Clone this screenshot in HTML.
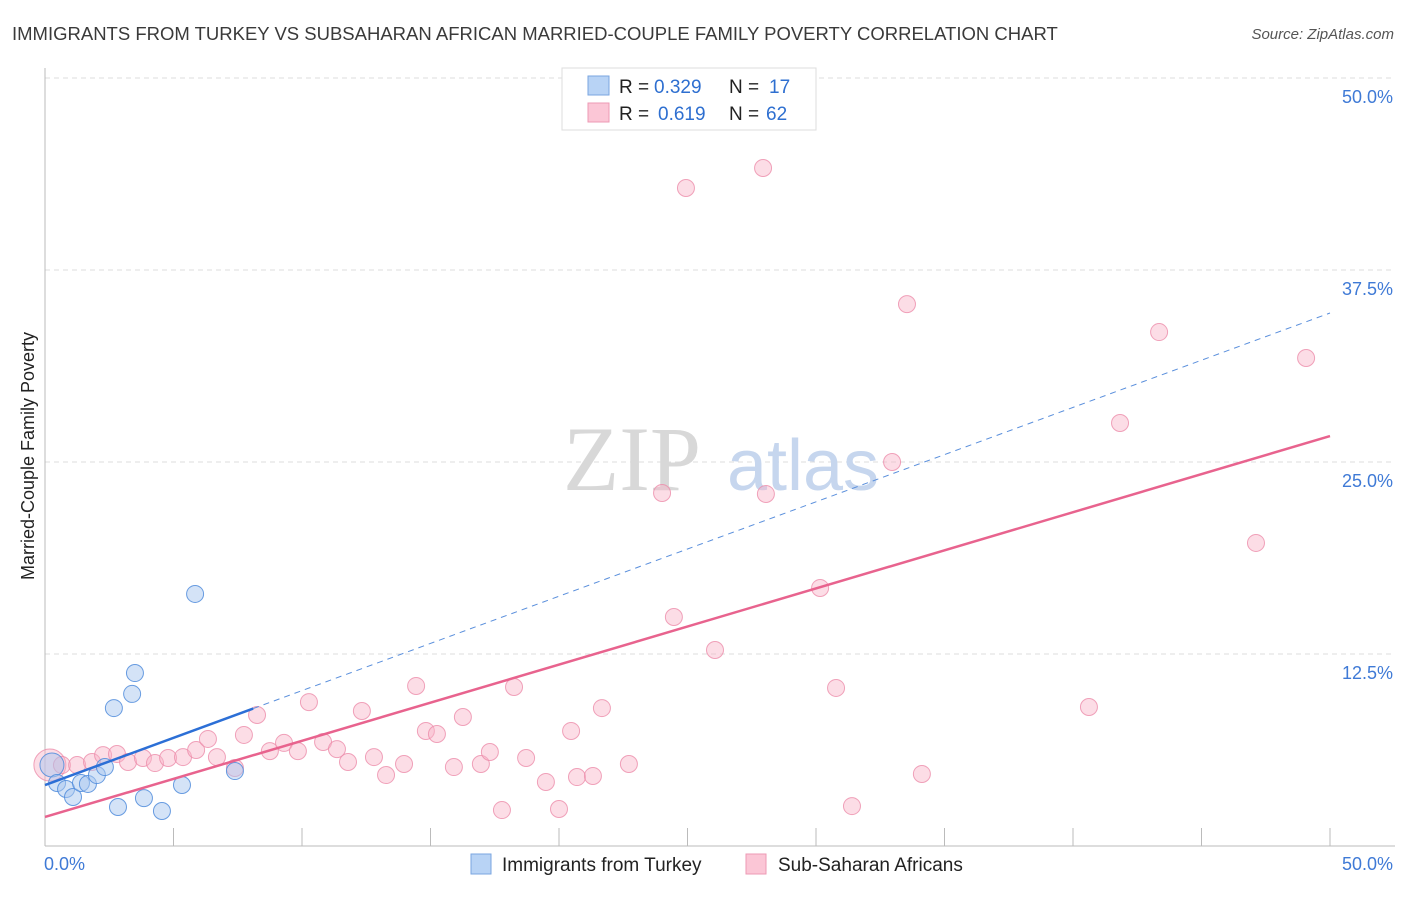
<!DOCTYPE html>
<html><head><meta charset="utf-8"><style>
body{margin:0;background:#fff;font-family:"Liberation Sans",sans-serif;}
</style></head><body>
<svg width="1406" height="892" xmlns="http://www.w3.org/2000/svg">
<text x="12" y="40" font-size="18.5" fill="#3a3a3a">IMMIGRANTS FROM TURKEY VS SUBSAHARAN AFRICAN MARRIED-COUPLE FAMILY POVERTY CORRELATION CHART</text>
<text x="1394" y="39" font-size="15" fill="#555" font-style="italic" text-anchor="end">Source: ZipAtlas.com</text>
<g id="grid"></g>
<text x="632" y="490" font-size="92" fill="#d8d8d8" font-family="Liberation Serif,serif" text-anchor="middle">ZIP</text>
<text x="803" y="490" font-size="72" fill="#c6d6ee" text-anchor="middle">atlas</text>
<g id="marks"></g>
<text transform="translate(34,456) rotate(-90)" font-size="18" fill="#222" text-anchor="middle">Married-Couple Family Poverty</text>
<g>
<rect x="562" y="68" width="254" height="62" fill="#fff" stroke="#ddd"/>
<rect x="588" y="76" width="21" height="19" fill="#b8d3f5" stroke="#7aa6e0"/>
<rect x="588" y="103" width="21" height="19" fill="#fbc6d6" stroke="#ee9ab4"/>
<text x="619" y="93" font-size="19" fill="#222">R =</text>
<text x="654" y="93" font-size="19" fill="#2e6fd0">0.329</text>
<text x="729" y="93" font-size="19" fill="#222">N =</text>
<text x="769" y="93" font-size="19" fill="#2e6fd0">17</text>
<text x="619" y="120" font-size="19" fill="#222">R =</text>
<text x="658" y="120" font-size="19" fill="#2e6fd0">0.619</text>
<text x="729" y="120" font-size="19" fill="#222">N =</text>
<text x="766" y="120" font-size="19" fill="#2e6fd0">62</text>
</g>
<g>
<rect x="471" y="854" width="20" height="20" fill="#b8d3f5" stroke="#7aa6e0"/>
<text x="502" y="871" font-size="19" fill="#222">Immigrants from Turkey</text>
<rect x="746" y="854" width="20" height="20" fill="#fbc6d6" stroke="#ee9ab4"/>
<text x="778" y="871" font-size="19" fill="#222">Sub-Saharan Africans</text>
</g>
</svg>
<script>
const yTicks=[12.5,25,37.5,50];
const yTickLabels=["12.5%","25.0%","37.5%","50.0%"];
const xTickLabels=["0.0%","50.0%"];
const blueX=[0.27,0.47,0.82,1.09,1.40,1.67,2.02,2.33,2.68,2.84,3.39,3.50,3.85,4.55,5.33,5.84,7.39];
const blueY=[5.27,4.10,3.71,3.19,4.10,4.04,4.62,5.14,8.98,2.54,9.90,11.26,3.12,2.28,3.97,16.41,4.88];
const pinkX=[0.19,0.66,1.25,1.83,2.26,2.80,3.23,3.81,4.28,4.79,5.37,5.88,6.34,6.69,7.39,7.74,8.25,8.75,9.30,9.84,10.27,10.82,11.36,11.79,12.33,12.80,13.27,13.97,14.44,14.82,15.25,15.91,16.26,16.96,17.31,17.78,18.25,18.72,19.49,20.00,20.47,20.70,21.32,21.67,22.72,24.01,24.47,24.94,26.07,27.94,28.05,30.16,30.78,31.40,32.96,33.54,34.12,40.62,41.83,43.35,47.12,49.07];
const pinkY=[5.27,5.27,5.27,5.47,5.92,5.99,5.47,5.73,5.40,5.73,5.79,6.25,6.97,5.79,5.08,7.23,8.53,6.18,6.71,6.18,9.37,6.77,6.31,5.47,8.79,5.79,4.62,5.34,10.42,7.49,7.29,5.14,8.40,5.34,6.12,2.34,10.35,5.73,4.17,2.41,7.49,4.49,4.56,8.98,5.34,22.98,14.91,42.84,12.76,44.14,22.92,16.80,10.29,2.60,25.00,35.28,4.69,9.05,27.54,33.46,19.73,31.77];
const blueLine=[3.97,34.7], blueSolidEnd=8.1;
const pinkLine=[1.89,26.69];
const NS="http://www.w3.org/2000/svg";
const X=v=>45+v/50*1285, Y=v=>846-v/12.5*192;
function mk(t,a,p){const e=document.createElementNS(NS,t);for(const k in a)e.setAttribute(k,a[k]);p.appendChild(e);return e;}
const g=document.getElementById('grid'), m=document.getElementById('marks');
yTicks.forEach((t,i)=>{
 const l=mk('line',{x1:45,x2:1395,y1:Y(t),y2:Y(t),stroke:'#ddd','stroke-dasharray':'5,4'},g);
 
 
 const tx=mk('text',{x:1393,y:Y(t)+25,'font-size':18,fill:'#3f7ad6','text-anchor':'end'},g);
 tx.textContent=yTickLabels[i];
 
 
});
mk('line',{x1:45,x2:45,y1:68,y2:846,stroke:'#bbb'},g);
mk('line',{x1:45,x2:1395,y1:846,y2:846,stroke:'#bbb'},g);
for(let i=1;i<=10;i++){const x=X(i*5);mk('line',{x1:x,x2:x,y1:828,y2:846,stroke:'#bbb'},g);}
xTickLabels.forEach((t,i)=>{
 const tx=mk('text',{x:i?1393:44,y:870,'font-size':18,fill:'#3f7ad6','text-anchor':i?'end':'start'},g);
 tx.textContent=t;
 
 
});
pinkX.forEach((v,i)=>{
 const c=mk('circle',{cx:X(v),cy:Y(pinkY[i]),r:i==0?16:8.5,fill:'rgba(248,180,200,0.45)',stroke:'rgba(236,140,170,0.8)','stroke-width':1},m);
 
 
});
blueX.forEach((v,i)=>{
 const c=mk('circle',{cx:X(v),cy:Y(blueY[i]),r:i==0?12:8.5,fill:'rgba(170,200,240,0.5)',stroke:'rgba(80,140,220,0.85)','stroke-width':1},m);
 
 
});
const bAt=x=>blueLine[0]+(blueLine[1]-blueLine[0])*x/50;
let l=mk('line',{x1:X(blueSolidEnd),y1:Y(bAt(blueSolidEnd)),x2:X(50),y2:Y(bAt(50)),stroke:'#5a8fdc','stroke-width':1,'stroke-dasharray':'6,5'},m);


l=mk('line',{x1:X(0),y1:Y(bAt(0)),x2:X(blueSolidEnd),y2:Y(bAt(blueSolidEnd)),stroke:'#2c6fd6','stroke-width':2.5},m);


l=mk('line',{x1:X(0),y1:Y(pinkLine[0]),x2:X(50),y2:Y(pinkLine[1]),stroke:'#e8638e','stroke-width':2.5},m);


</script>
</body></html>
